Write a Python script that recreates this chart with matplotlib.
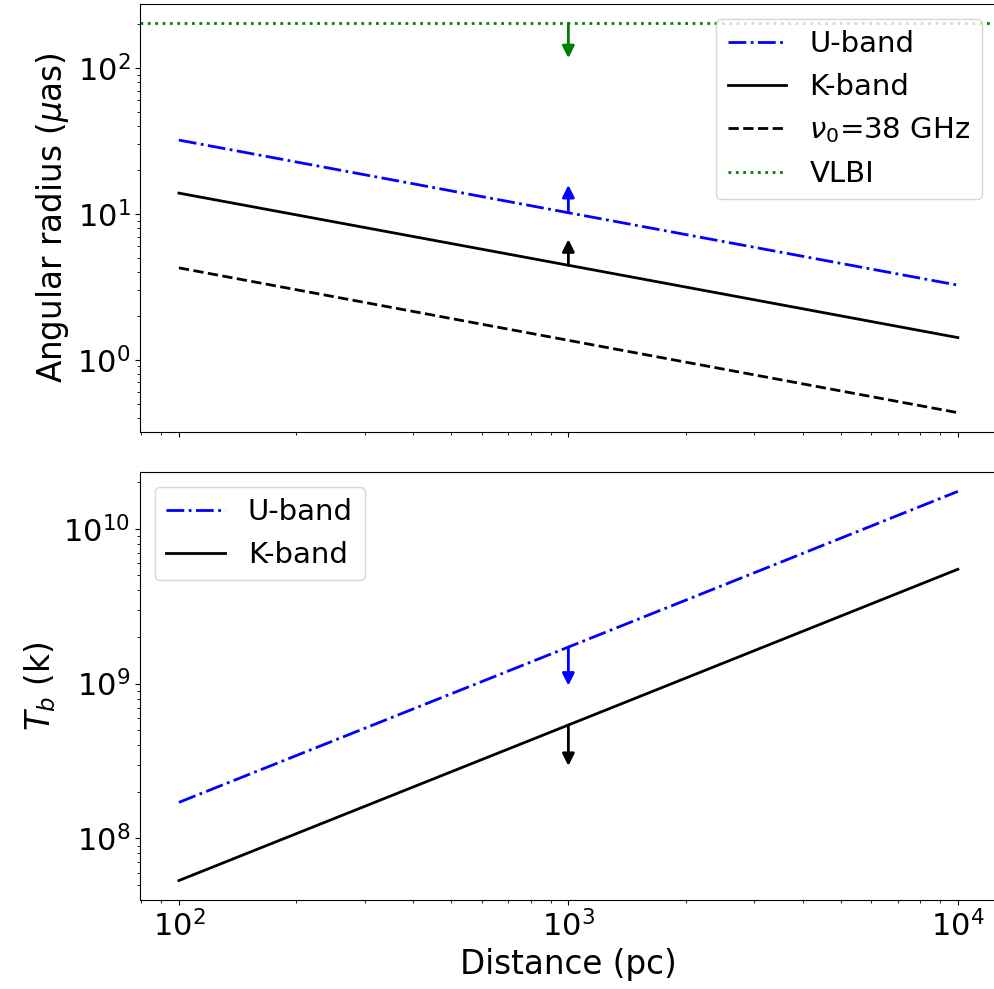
import numpy as np
import matplotlib
matplotlib.use('Agg')
from matplotlib import pyplot as plt

# distances (pc)
distance = [100, 1000, 10000]

# angular radius (micro-arcsec)
u_radius = [32.1, 10.2, 3.25]
k_radius = [13.9, 4.45, 1.42]
nu0_radius = [4.27, 1.36, 0.434]
vlbi_radius = [203, 203, 203]

# brightness temperature (K)
u_tb = [1.71e8, 1.72e9, 1.74e10]
k_tb = [5.35e7, 5.4e8, 5.47e9]

# limit arrows at 1 kpc: (start, end)
arrow_x = 1000
top_arrows = [(203, 117, 'green'), (10.2, 15.8, 'blue'), (4.45, 6.7, 'black')]
bottom_arrows = [(1.72e9, 9.7e8, 'blue'), (5.4e8, 2.94e8, 'black')]

LW = 2

fig = plt.figure(figsize=(9.94, 9.89), dpi=100)
ax1 = fig.add_axes([0.1408, 0.5632, 0.862, 0.4328])
ax2 = fig.add_axes([0.1408, 0.09, 0.862, 0.4328], sharex=ax1)

ax1.plot(distance, u_radius, 'b-.', lw=LW, label='U-band')
ax1.plot(distance, k_radius, 'k-', lw=LW, label='K-band')
ax1.plot(distance, nu0_radius, 'k--', lw=LW, label=r'$\nu_0$=38 GHz')
ax1.axhline(vlbi_radius[0], color='green', ls=':', lw=LW, label='VLBI')
ax1.set_xscale('log')
ax1.set_yscale('log')
ax1.set_ylim(10**-0.495, 10**2.44)
ax1.set_ylabel(r'Angular radius ($\mu$as)', fontsize=23.5)
ax1.tick_params(labelsize=22)
ax1.tick_params(axis='x', labelbottom=False)
for y0, y1, c in top_arrows:
    ax1.annotate('', xy=(arrow_x, y1), xytext=(arrow_x, y0),
                 arrowprops=dict(arrowstyle='-|>', color=c, lw=LW,
                                 mutation_scale=18, shrinkA=0, shrinkB=0))
ax1.legend(loc='upper right', fontsize=21)

ax2.plot(distance, u_tb, 'b-.', lw=LW, label='U-band')
ax2.plot(distance, k_tb, 'k-', lw=LW, label='K-band')
ax2.set_yscale('log')
ax2.set_xlim(10**1.9, 10**4.1)
ax2.set_ylabel(r'$T_b$ (k)', fontsize=23.5)
ax2.set_xlabel('Distance (pc)', fontsize=23.5)
ax2.tick_params(labelsize=22)
for y0, y1, c in bottom_arrows:
    ax2.annotate('', xy=(arrow_x, y1), xytext=(arrow_x, y0),
                 arrowprops=dict(arrowstyle='-|>', color=c, lw=LW,
                                 mutation_scale=18, shrinkA=0, shrinkB=0))
ax2.legend(loc='upper left', fontsize=21)

fig.savefig('out.png', dpi=100)
